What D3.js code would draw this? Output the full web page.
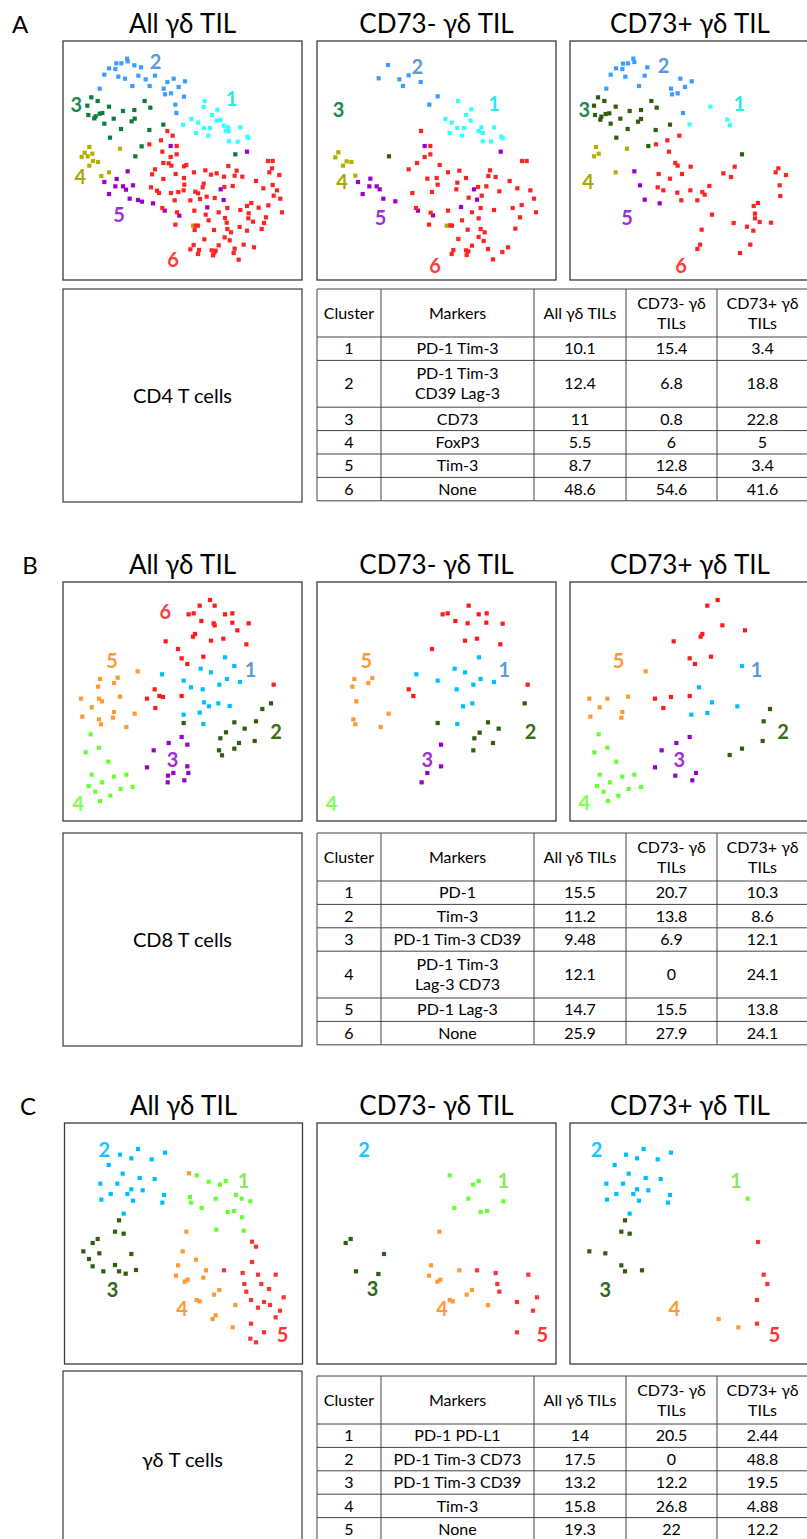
<!DOCTYPE html>
<html>
<head>
<meta charset="utf-8">
<script src="https://cdn.jsdelivr.net/npm/d3@7"></script>
<style>
  body { margin: 0; background: #fff; }
  svg { display: block; }
</style>
</head>
<body>
<div id="fig"></div>
<script>

// ---- data: t-SNE points per panel, [cluster, [[x, y], ...]] (arbitrary t-SNE units) ----

var aAll = [
  [2, [[195,62],[197,70],[163,76],[178,76],[141,91],[160,93],[217,82],[237,88],[127,110],[169,116],[189,122],[229,113],[251,124],[279,113],[211,144],[263,144],[113,152],[316,132],[335,122],[369,130],[350,147],[305,152],[309,169],[327,166],[366,176],[340,200],[343,225]]],
  [1, [[428,189],[425,207],[466,215],[450,231],[464,248],[476,245],[388,243],[408,254],[363,260],[426,270],[444,270],[485,263],[498,268],[500,280],[491,278],[535,268],[402,285],[439,293],[501,310],[527,311],[556,296],[559,300]]],
  [3, [[88,178],[107,189],[76,203],[141,206],[79,231],[97,241],[101,235],[113,227],[121,225],[155,242],[183,219],[217,216],[209,250],[218,242],[248,189],[265,209],[127,257],[177,273],[262,276],[304,260],[144,299],[239,325],[220,355],[520,349]]],
  [4, [[82,327],[68,344],[91,347],[59,357],[77,355],[93,369],[108,372],[82,383],[174,332],[141,403],[118,414],[393,563]]],
  [5, [[197,400],[164,423],[127,432],[160,445],[183,445],[192,455],[213,442],[141,468],[203,482],[228,486],[240,491],[273,496],[308,518],[352,533],[326,324],[555,341],[476,454],[485,486],[436,508]]],
  [6, [[316,279],[332,293],[262,319],[297,307],[344,324],[301,341],[344,349],[326,357],[304,375],[320,376],[328,383],[366,385],[373,381],[279,394],[270,409],[304,423],[341,408],[396,403],[430,397],[464,406],[447,410],[486,416],[499,384],[524,398],[518,413],[541,416],[618,369],[632,369],[630,391],[622,403],[652,411],[366,420],[367,440],[365,457],[425,437],[422,448],[487,447],[512,444],[582,429],[632,441],[645,457],[604,451],[267,448],[285,458],[291,465],[327,465],[349,462],[400,461],[408,466],[458,480],[635,473],[655,482],[338,487],[385,487],[414,483],[434,476],[568,495],[555,504],[535,516],[496,510],[470,523],[590,509],[619,502],[660,523],[301,510],[397,518],[431,530],[440,547],[489,540],[560,526],[559,541],[573,551],[612,538],[345,523],[494,554],[496,573],[507,583],[533,567],[555,578],[606,555],[599,573],[340,560],[401,563],[408,563],[398,576],[456,576],[427,604],[488,598],[503,607],[470,622],[545,620],[576,628],[395,621],[385,634],[411,636],[449,637],[461,638],[457,644],[518,632],[515,645],[408,648],[453,652],[530,665]]]
];
var aNeg = [
  [2, [[222,81],[194,121],[256,124],[284,112],[320,132],[267,144],[371,175],[346,200]]],
  [1, [[432,189],[472,214],[456,231],[394,243],[413,254],[470,248],[430,270],[450,270],[502,268],[540,268],[494,279],[506,285],[407,285],[444,293],[562,296],[566,301],[506,310],[531,310]]],
  [3, [[225,355]]],
  [4, [[73,343],[64,358],[98,370],[112,372],[87,383],[124,413],[398,563]]],
  [5, [[332,324],[560,341],[169,422],[132,432],[166,445],[188,445],[197,454],[146,468],[208,482],[244,490],[312,518],[357,532],[480,454],[489,485],[441,507]]],
  [6, [[321,279],[349,324],[349,349],[332,357],[309,375],[377,381],[284,394],[402,403],[436,398],[528,397],[523,414],[545,417],[624,369],[638,369],[340,422],[368,420],[371,440],[456,420],[430,434],[587,429],[427,454],[492,447],[517,445],[610,451],[354,462],[295,465],[464,479],[503,473],[556,460],[649,457],[660,482],[306,510],[350,524],[402,518],[474,523],[500,510],[540,516],[596,510],[623,501],[666,523],[494,541],[444,547],[618,538],[345,560],[409,562],[414,563],[461,575],[500,573],[512,583],[604,572],[433,603],[494,597],[509,609],[474,623],[522,633],[582,628],[565,642],[418,636],[413,648],[456,637],[463,640],[458,651],[537,664]]]
];
var aPos = [
  [2, [[199,62],[202,72],[168,77],[183,76],[147,91],[166,93],[241,88],[131,110],[175,116],[233,113],[216,144],[118,152],[340,122],[374,130],[354,147],[312,152],[315,169],[332,166],[348,225]]],
  [1, [[430,206],[481,245],[489,262],[368,259]]],
  [3, [[93,178],[112,189],[81,203],[146,206],[84,231],[103,236],[100,245],[116,228],[127,226],[160,242],[188,219],[222,216],[213,251],[222,243],[253,189],[269,209],[131,257],[182,273],[266,276],[309,260],[148,299],[244,324],[525,349]]],
  [4, [[87,327],[95,347],[81,355],[180,332],[146,403]]],
  [5, [[202,400],[219,442],[233,485],[278,496]]],
  [6, [[337,293],[301,307],[267,319],[306,341],[325,375],[332,383],[371,386],[275,408],[309,422],[345,408],[503,386],[469,406],[492,417],[634,391],[626,403],[657,411],[638,442],[640,474],[272,448],[289,457],[331,464],[370,457],[406,462],[413,470],[427,444],[343,487],[391,487],[573,495],[560,504],[564,527],[564,541],[578,552],[612,554],[435,530],[500,555],[540,566],[559,578],[404,575],[399,620],[391,633],[550,620],[519,645]]]
];

var bAll = [
  [6, [[444,60],[458,77],[413,77],[380,103],[395,100],[489,103],[511,100],[418,123],[455,130],[458,136],[511,128],[560,130],[526,151],[399,162],[393,170],[447,182],[484,176],[311,184],[553,193],[348,207],[424,230],[359,235],[376,252],[635,314],[278,328],[292,348],[303,351],[255,356],[359,348],[280,384]]],
  [1, [[489,232],[517,258],[416,266],[447,277],[300,283],[365,302],[387,322],[422,328],[495,297],[472,314],[534,306],[426,367],[441,379],[469,370],[503,378],[413,398],[365,404],[424,432]]],
  [2, [[627,370],[601,387],[582,424],[517,427],[548,446],[492,457],[475,475],[578,483],[531,489],[517,506],[471,511],[480,526],[365,429]]],
  [5, [[227,274],[114,297],[167,293],[156,309],[108,320],[57,356],[111,356],[120,364],[174,350],[89,382],[156,396],[218,401],[61,410],[111,418],[153,413],[117,433],[193,441]]],
  [4, [[86,463],[111,503],[71,517],[139,545],[89,584],[156,590],[193,584],[120,607],[80,618],[100,635],[176,627],[212,621],[145,647],[114,663]]],
  [3, [[359,471],[320,489],[376,494],[275,511],[255,562],[376,559],[379,579],[334,579],[318,587],[317,607],[367,601]]]
];
var bNeg = [
  [6, [[464,77],[386,103],[401,100],[494,103],[518,100],[424,123],[461,130],[517,128],[566,131],[453,182],[489,176],[559,193],[354,207],[641,314],[284,328],[298,348]]],
  [1, [[495,232],[422,266],[453,277],[307,283],[371,302],[500,297],[478,314],[540,306],[428,328],[447,379],[475,370],[430,432]]],
  [2, [[632,370],[522,427],[554,446],[497,458],[481,475],[537,489],[478,511],[371,429]]],
  [5, [[121,297],[175,294],[163,309],[115,320],[127,364],[224,401],[118,418],[124,433],[200,441]]],
  [3, [[381,494],[381,559],[340,579],[323,607]]]
];
var bPos = [
  [6, [[452,60],[421,77],[466,136],[534,151],[406,162],[401,170],[320,184],[368,235],[384,252],[432,230],[264,356],[312,351],[368,348],[289,384]]],
  [1, [[525,258],[396,322],[435,367],[511,379],[421,399],[373,404]]],
  [2, [[609,387],[590,424],[587,483],[525,506],[488,525]]],
  [5, [[236,274],[67,356],[121,356],[183,350],[98,382],[166,396],[70,410],[163,413]]],
  [4, [[95,463],[121,503],[82,517],[148,545],[98,584],[166,590],[202,584],[129,607],[90,618],[110,635],[185,627],[222,621],[154,647],[123,663]]],
  [3, [[368,471],[328,489],[284,511],[264,562],[387,579],[325,587],[376,601]]]
];

var cAll = [
  [2, [[228,93],[174,110],[208,121],[269,124],[309,104],[140,141],[182,167],[233,180],[278,183],[115,197],[166,197],[208,214],[242,217],[146,228],[196,228],[306,231],[118,245],[213,248],[301,254],[185,287]]],
  [3, [[171,307],[159,341],[185,347],[107,363],[92,375],[64,400],[112,406],[208,408],[81,423],[92,445],[159,441],[124,460],[171,460],[191,467],[222,456]]],
  [1, [[404,172],[440,191],[474,200],[491,189],[384,237],[387,254],[461,242],[522,231],[539,242],[565,250],[419,270],[497,282],[516,279],[540,298],[463,335],[545,338]]],
  [4, [[381,166],[373,341],[362,400],[402,425],[348,442],[432,457],[342,473],[368,491],[377,485],[424,479],[472,516],[456,530],[404,546],[413,550],[520,561],[461,592],[452,603],[512,628]]],
  [5, [[570,371],[582,386],[570,432],[486,457],[542,465],[588,470],[641,470],[547,498],[598,498],[553,521],[621,513],[665,538],[567,546],[606,552],[624,561],[588,569],[654,578],[641,598],[567,617],[606,643],[565,662],[582,673]]]
];
var cNeg = [
  [1, [[407,172],[477,200],[494,189],[463,242],[568,250],[421,270],[500,282],[519,279]]],
  [4, [[376,341],[351,442],[436,457],[345,473],[370,491],[379,485],[474,516],[458,530],[407,546],[416,550],[522,561]]],
  [3, [[110,363],[95,375],[210,408],[126,460],[193,468]]],
  [5, [[489,457],[545,465],[643,470],[550,498],[556,521],[669,538],[609,552],[657,578],[609,643]]]
];
var cPos = [
  [2, [[230,93],[177,110],[210,121],[272,124],[312,104],[143,141],[185,167],[236,180],[281,183],[118,197],[168,197],[210,214],[244,217],[148,228],[199,228],[309,231],[120,245],[216,248],[303,254],[188,287]]],
  [3, [[174,307],[163,341],[188,347],[67,400],[115,406],[163,442],[174,460],[225,457]]],
  [1, [[542,242]]],
  [5, [[573,372],[590,470],[601,498],[570,546],[570,617]]],
  [4, [[455,603],[514,628]]]
];

// cluster number labels: [cluster, x, y] in the same t-SNE units
var aAllLab = [[2,281,72],[1,509,182],[3,43,200],[4,55,417],[5,171,530],[6,333,665]];
var aNegLab = [[2,310,85],[1,540,196],[3,74,215],[4,84,432],[5,200,540],[6,363,682]];
var aPosLab = [[2,290,83],[1,517,197],[3,52,215],[4,63,432],[5,180,540],[6,342,682]];
var bAllLab = [[6,310,95],[5,150,243],[1,566,270],[2,642,455],[3,332,538],[4,48,670]];
var bNegLab = [[5,157,243],[1,571,270],[2,650,455],[3,340,538],[4,53,670]];
var bPosLab = [[5,155,243],[1,569,268],[2,648,455],[3,337,538],[4,52,668]];
var cAllLab = [[2,127,95],[1,545,187],[3,152,515],[4,360,571],[5,662,650]];
var cNegLab = [[2,150,95],[1,568,187],[3,176,513],[4,384,571],[5,685,650]];
var cPosLab = [[2,89,95],[1,507,187],[3,115,515],[4,322,571],[5,623,650]];

// ---- table data ----
var tableHeader = ["Cluster", "Markers", "All γδ TILs", "CD73- γδ|TILs", "CD73+ γδ|TILs"];

var aClusters = [1, 2, 3, 4, 5, 6];
var aMarkers = ["PD-1 Tim-3", "PD-1 Tim-3|CD39 Lag-3", "CD73", "FoxP3", "Tim-3", "None"];
var aAllPct = [10.1, 12.4, 11, 5.5, 8.7, 48.6];
var aNegPct = [15.4, 6.8, 0.8, 6, 12.8, 54.6];
var aPosPct = [3.4, 18.8, 22.8, 5, 3.4, 41.6];

var bClusters = [1, 2, 3, 4, 5, 6];
var bMarkers = ["PD-1", "Tim-3", "PD-1 Tim-3 CD39", "PD-1 Tim-3|Lag-3 CD73", "PD-1 Lag-3", "None"];
var bAllPct = [15.5, 11.2, 9.48, 12.1, 14.7, 25.9];
var bNegPct = [20.7, 13.8, 6.9, 0, 15.5, 27.9];
var bPosPct = [10.3, 8.6, 12.1, 24.1, 13.8, 24.1];

var cClusters = [1, 2, 3, 4, 5];
var cMarkers = ["PD-1 PD-L1", "PD-1 Tim-3 CD73", "PD-1 Tim-3 CD39", "Tim-3", "None"];
var cAllPct = [14, 17.5, 13.2, 15.8, 19.3];
var cNegPct = [20.5, 0, 12.2, 26.8, 22];
var cPosPct = [2.44, 48.8, 19.5, 4.88, 12.2];

var panelTitles = ["All γδ TIL", "CD73- γδ TIL", "CD73+ γδ TIL"];

// colours
var aPoint = {1:"#33ffff", 2:"#3d9cff", 3:"#0d7a3e", 4:"#b0b000", 5:"#9900cc", 6:"#ff2424"};
var aPointSub = {1:"#33ffff", 2:"#3d9cff", 3:"#2e5e0e", 4:"#b0b000", 5:"#9900cc", 6:"#ff2424"};
var aLabel = {1:"#2de8e8", 2:"#5b9bd5", 3:"#1b8a50", 4:"#a8a800", 5:"#9933cc", 6:"#ff3b3b"};
var bPoint = {1:"#00bfff", 2:"#2e5e0e", 3:"#9900cc", 4:"#66ff33", 5:"#ff9933", 6:"#ff1a1a"};
var bLabel = {1:"#5b9bd5", 2:"#3d6b14", 3:"#9933cc", 4:"#7fff50", 5:"#ff9933", 6:"#ff4040"};
var cPoint = {1:"#66ff33", 2:"#00bfff", 3:"#2e5e0e", 4:"#ff9933", 5:"#ff3333"};
var cLabel = {1:"#8be65a", 2:"#19c3ff", 3:"#35661a", 4:"#ff9933", 5:"#ff3333"};

// ---- layout ----
var W = 807, H = 1539;
var FONT = "Lato, 'Noto Sans', sans-serif";
var colX = [317, 381, 534, 626, 717, 808];

var sections = [
  { letter: "A", letterX: 20, titleY: 33,
    origins: [[62,38],[314,38],[567,38]],
    boxes: [[63,41,239,239],[317,41,239,239],[570,41,240,239]],
    points: [aAll, aNeg, aPos], labels: [aAllLab, aNegLab, aPosLab],
    pointColors: [aPoint, aPointSub, aPointSub], labelColors: aLabel,
    cellBox: [63,289,239,213], cellName: "CD4 T cells",
    tableTop: 289, clusters: aClusters, markers: aMarkers, all: aAllPct, neg: aNegPct, pos: aPosPct },
  { letter: "B", letterX: 30, titleY: 574,
    origins: [[62,580],[314,580],[567,580]],
    boxes: [[63,582,239,239],[317,582,239,239],[570,582,240,239]],
    points: [bAll, bNeg, bPos], labels: [bAllLab, bNegLab, bPosLab],
    pointColors: [bPoint, bPoint, bPoint], labelColors: bLabel,
    cellBox: [63,833,239,213], cellName: "CD8 T cells",
    tableTop: 833, clusters: bClusters, markers: bMarkers, all: bAllPct, neg: bNegPct, pos: bPosPct },
  { letter: "C", letterX: 28, titleY: 1115,
    origins: [[62,1118],[314,1118],[567,1118]],
    boxes: [[64.5,1123,238,241],[317,1123,239,241],[570,1123,240,241]],
    points: [cAll, cNeg, cPos], labels: [cAllLab, cNegLab, cPosLab],
    pointColors: [cPoint, cPoint, cPoint], labelColors: cLabel,
    cellBox: [63,1371,239,178], cellName: "γδ T cells",
    tableTop: 1376, clusters: cClusters, markers: cMarkers, all: cAllPct, neg: cNegPct, pos: cPosPct }
];

var svg = d3.select("#fig").append("svg")
  .attr("width", W)
  .attr("height", H)
  .style("font-family", FONT);

svg.append("rect").attr("width", W).attr("height", H).attr("fill", "#fff");

var PT = 4.2;      // point square size
var ROW = 23.4;    // table row height
var HEAD = 48;     // table header height
var LINE = 20;     // line spacing inside a cell

sections.forEach(function(s) {

  // section letter
  svg.append("text")
    .attr("x", s.letterX).attr("y", s.titleY)
    .attr("text-anchor", "middle")
    .style("font-size", "24px")
    .attr("fill", "#000")
    .text(s.letter);

  s.boxes.forEach(function(b, i) {
    var o = s.origins[i];

    // t-SNE scales for this panel
    var x = d3.scaleLinear().domain([0, 726]).range([o[0], o[0] + 242]);
    var y = d3.scaleLinear().domain([0, 726]).range([o[1], o[1] + 242]);

    // title
    svg.append("text")
      .attr("x", b[0] + b[2] / 2).attr("y", s.titleY)
      .attr("text-anchor", "middle")
      .style("font-size", "26px")
      .attr("fill", "#000")
      .text(panelTitles[i]);

    var g = svg.append("g");

    g.append("rect")
      .attr("x", b[0]).attr("y", b[1])
      .attr("width", b[2]).attr("height", b[3])
      .attr("fill", "#fff")
      .attr("stroke", "#3a3a3a")
      .attr("stroke-width", 1.3);

    // dots
    var colors = s.pointColors[i];
    s.points[i].forEach(function(grp) {
      g.append("g")
        .selectAll("rect")
        .data(grp[1])
        .enter()
        .append("rect")
        .attr("x", function(d) { return x(d[0]) - PT / 2; })
        .attr("y", function(d) { return y(d[1]) - PT / 2; })
        .attr("width", PT).attr("height", PT)
        .attr("fill", colors[grp[0]]);
    });

    // cluster numbers
    g.selectAll("text.lab")
      .data(s.labels[i])
      .enter()
      .append("text")
      .attr("class", "lab")
      .attr("x", function(d) { return x(d[1]); })
      .attr("y", function(d) { return y(d[2]); })
      .attr("dy", "0.36em")
      .attr("text-anchor", "middle")
      .style("font-size", "20px")
      .style("font-weight", "bold")
      .attr("fill", function(d) { return s.labelColors[d[0]]; })
      .text(function(d) { return d[0]; });
  });

  // cell type box
  var cb = s.cellBox;
  svg.append("rect")
    .attr("x", cb[0]).attr("y", cb[1])
    .attr("width", cb[2]).attr("height", cb[3])
    .attr("fill", "none")
    .attr("stroke", "#3a3a3a")
    .attr("stroke-width", 1.2);
  svg.append("text")
    .attr("x", cb[0] + cb[2] / 2).attr("y", cb[1] + cb[3] / 2)
    .attr("dy", "0.35em")
    .attr("text-anchor", "middle")
    .style("font-size", "20px")
    .text(s.cellName);

  // table
  var rows = [tableHeader];
  s.clusters.forEach(function(c, k) {
    rows.push([String(c), s.markers[k], String(s.all[k]), String(s.neg[k]), String(s.pos[k])]);
  });

  var tg = svg.append("g");
  var yy = s.tableTop;
  var lineYs = [yy];
  rows.forEach(function(r, k) {
    var nLines = d3.max(r, function(t) { return t.split("|").length; });
    var h = k === 0 ? HEAD : nLines * ROW;
    var cy = yy + h / 2;
    r.forEach(function(t, j) {
      var parts = t.split("|");
      var cx = (colX[j] + colX[j + 1]) / 2;
      parts.forEach(function(p, m) {
        tg.append("text")
          .attr("x", cx)
          .attr("y", cy + (m - (parts.length - 1) / 2) * LINE)
          .attr("dy", "0.35em")
          .attr("text-anchor", "middle")
          .style("font-size", "16px")
          .attr("fill", "#000")
          .text(p);
      });
    });
    yy += h;
    lineYs.push(yy);
  });

  tg.selectAll("line.h")
    .data(lineYs)
    .enter()
    .append("line")
    .attr("x1", colX[0]).attr("x2", colX[colX.length - 1])
    .attr("y1", function(d) { return d; }).attr("y2", function(d) { return d; })
    .attr("stroke", "#444").attr("stroke-width", 1);

  tg.selectAll("line.v")
    .data(colX)
    .enter()
    .append("line")
    .attr("x1", function(d) { return d; }).attr("x2", function(d) { return d; })
    .attr("y1", s.tableTop).attr("y2", yy)
    .attr("stroke", "#444").attr("stroke-width", 1);
});

</script>
</body>
</html>
